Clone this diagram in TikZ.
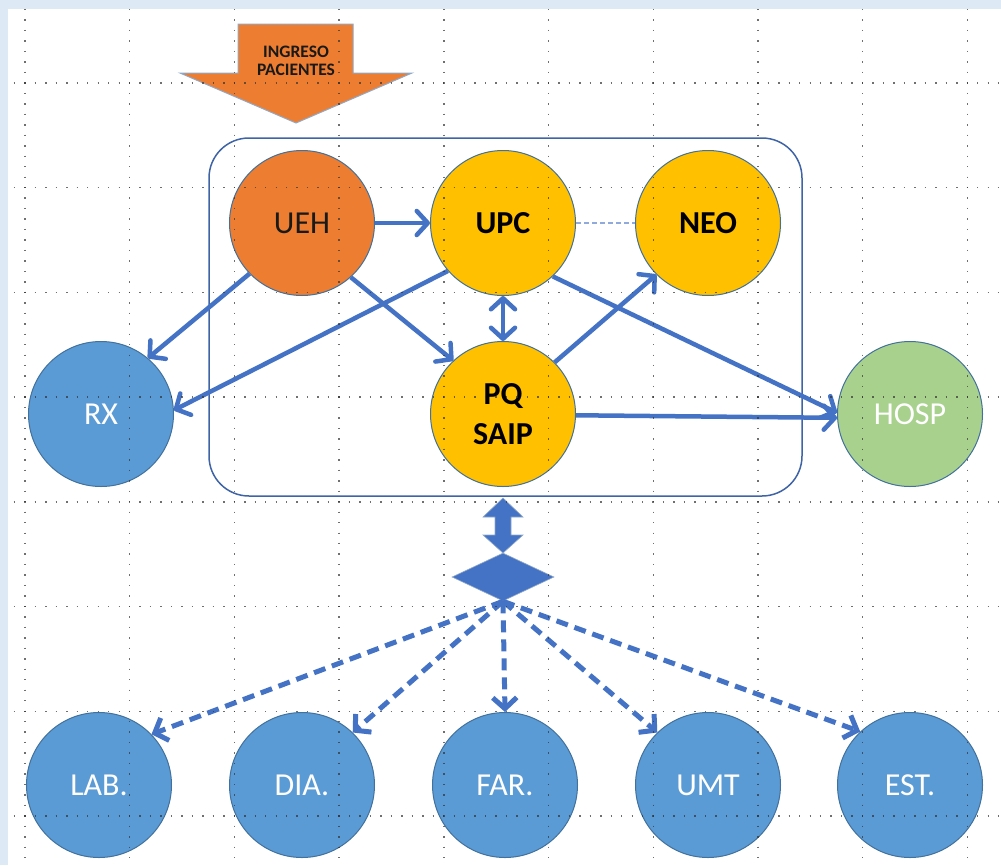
\documentclass[tikz,border=0pt]{standalone}
\usepackage{fontspec}
\setmainfont{Carlito}
\usetikzlibrary{arrows.meta,shapes.geometric}
\definecolor{corange}{HTML}{ED7D31}
\definecolor{cyellow}{HTML}{FFC000}
\definecolor{cblue}{HTML}{5B9BD5}
\definecolor{cgreen}{HTML}{A9D18E}
\definecolor{cborder}{HTML}{41719C}
\definecolor{carrow}{HTML}{4472C4}
\definecolor{cbox}{HTML}{3F64A6}
\definecolor{cframe}{HTML}{DDEAF6}
\definecolor{cthin}{HTML}{8FAADC}
\definecolor{cedge}{HTML}{8FA9C8}
\begin{document}
\begin{tikzpicture}[x=1pt,y=-1pt,
  circ/.style={circle, minimum size=145pt, inner sep=0pt, draw=cborder, line width=1pt,
    font=\fontsize{32}{40}\selectfont, align=center},
  bluec/.style={circ, fill=cblue, text=white},
  yelc/.style={circ, fill=cyellow, text=black, font=\fontsize{32}{40}\selectfont\bfseries},
  tipb/.tip={Straight Barb[length=11pt,width=24pt,line cap=round,line join=round]},
  link/.style={draw=carrow, line width=4.5pt, -tipb},
  dlink/.style={draw=carrow, line width=4.5pt, tipb-tipb},
  dashlink/.style={draw=carrow, line width=5pt, dash pattern=on 12pt off 7pt, -{Straight Barb[length=11pt,width=24pt]}},
  thinlink/.style={draw=cthin, line width=1.6pt, dash pattern=on 5pt off 3pt},
  griddot/.style={draw=black!80, line width=1.4pt, dash pattern=on 1.4pt off 9.07pt, opacity=0.7},
  blockshape/.style={fill=carrow, draw=cedge, line width=0.6pt}
]
\useasboundingbox (0,0) rectangle (1001,865);
\fill[white] (0,0) rectangle (1001,865);
\fill[cframe] (0,0) rectangle (1001,9);
\fill[cframe] (0,0) rectangle (8,865);

% entry block arrow
\fill[corange, draw=cedge, line width=1pt]
  (238,24) -- (353,24) -- (353,73) -- (412,73) -- (296,123) -- (180,73) -- (238,73) -- cycle;
\node (ingreso) at (296,61) [font=\fontsize{17.5}{18}\selectfont\bfseries, align=center, text=black!90] {INGRESO\\PACIENTES};

% container
\node (box) [draw=cbox, line width=1.5pt, rounded corners=40pt, minimum width=593pt, minimum height=358pt, inner sep=0pt] at (505.5,317) {};

% circles
\node[circ, fill=corange, text=black!90] (UEH) at (302,223) {UEH};
\node[yelc] (UPC) at (503,223) {UPC};
\node[yelc] (NEO) at (708,223) {NEO};
\node[bluec] (RX) at (101,414) {RX};
\node[yelc] (PQ) at (503,414) {PQ\\SAIP};
\node[circ, fill=cgreen, text=white] (HOSP) at (910,414) {HOSP};
\node[bluec] (LAB) at (99,785) {LAB.};
\node[bluec] (DIA) at (302,785) {DIA.};
\node[bluec] (FAR) at (505,785) {FAR.};
\node[bluec] (UMT) at (708,785) {UMT};
\node[bluec] (EST) at (910,785) {EST.};

% hub diamond
\node (hub) [diamond, fill=carrow, draw=cedge, line width=0.6pt, minimum width=102pt, minimum height=48pt, inner sep=0pt] at (503,577) {};

% block double arrow between box and hub
\filldraw[blockshape] (503,498) -- (523,517) -- (511,517) -- (511,535) -- (523,535) -- (503,553)
  -- (483,535) -- (495,535) -- (495,517) -- (483,517) -- cycle;

% connectors inside
\draw[link] (UEH.east) -- (UPC.west);
\draw[thinlink] (UPC.east) -- (NEO.west);
\draw[link] (UEH.224) -- (RX.50);
\draw[link] (UEH.312) -- (PQ.133);
\draw[link] (UPC.221) -- (RX.3);
\draw[dlink] (UPC.south) -- (PQ.north);
\draw[link] (PQ.45) -- (NEO.225);
\draw[link] (UPC.313) -- (HOSP.179);
\draw[link] (PQ.-1) -- (HOSP.183);

% dashed connectors
\draw[dashlink] (hub.south) -- (LAB.44);
\draw[dashlink] (hub.south) -- (DIA.46);
\draw[dashlink] (hub.south) -- (FAR.north);
\draw[dashlink] (hub.south) -- (UMT.134);
\draw[dashlink] (hub.south) -- (EST.133);

% dotted grid on top
\foreach \i in {0,...,9} {
  \draw[griddot] ({25+104.7*\i},9.0) -- ({25+104.7*\i},865);
}
\foreach \j in {0,...,7} {
  \draw[griddot] (13.8,{83+104.7*\j}) -- (1001,{83+104.7*\j});
}
\end{tikzpicture}
\end{document}
